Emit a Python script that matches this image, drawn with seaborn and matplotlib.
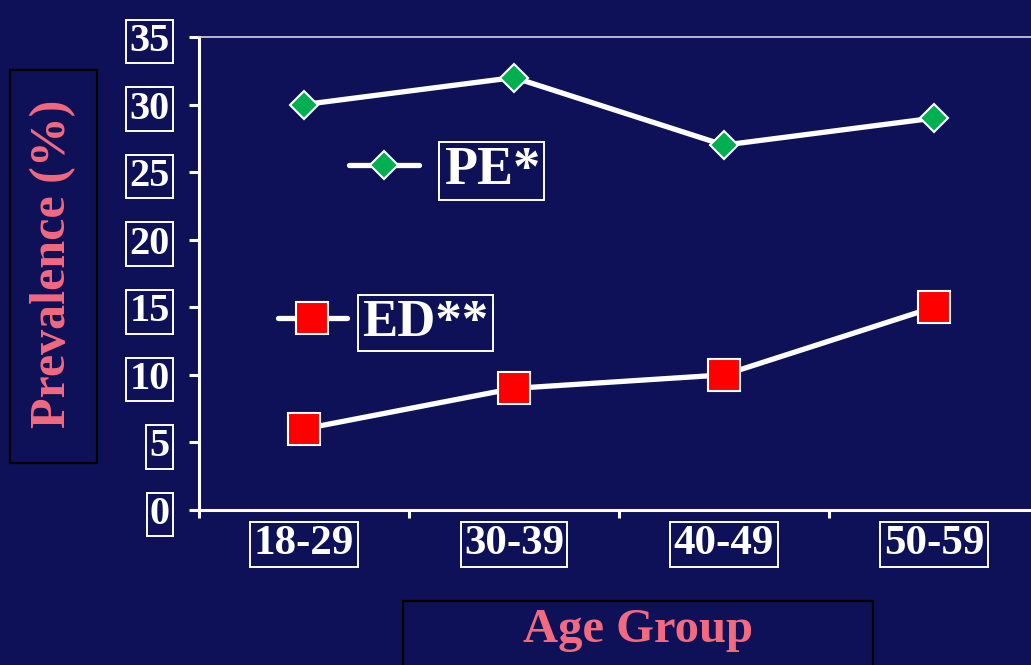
import matplotlib
matplotlib.use("Agg")
import matplotlib.pyplot as plt
from matplotlib.patches import Rectangle
import pandas as pd
import seaborn as sns

# Data
age_groups = ["18-29", "30-39", "40-49", "50-59"]
pe_values = [30, 32, 27, 29]
ed_values = [6, 9, 10, 15]
y_ticks = [0, 5, 10, 15, 20, 25, 30, 35]

NAVY = "#0E1158"
PINK = "#F26A7F"
GREEN = "#00B050"
RED = "#FF0000"
FONT = "Liberation Serif"

sns.set_theme(style="white")
plt.rcParams["font.family"] = [FONT, "DejaVu Sans"]
plt.rcParams["font.weight"] = "bold"

fig = plt.figure(figsize=(10.31, 6.65), dpi=100, facecolor=NAVY)
ax = fig.add_axes([199 / 1031, 155 / 665, 840 / 1031, 473 / 665])
ax.set_facecolor(NAVY)

pe_df = pd.DataFrame({"age": age_groups, "value": pe_values})
ed_df = pd.DataFrame({"age": age_groups, "value": ed_values})

sns.lineplot(data=pe_df, x="age", y="value", ax=ax, sort=False,
             color="white", linewidth=3.8, marker="D", markersize=14,
             markerfacecolor=GREEN, markeredgecolor="white",
             markeredgewidth=1.5, label="PE*", legend=False)
sns.lineplot(data=ed_df, x="age", y="value", ax=ax, sort=False,
             color="white", linewidth=3.8, marker="s", markersize=23,
             markerfacecolor=RED, markeredgecolor="white",
             markeredgewidth=1.5, label="ED**", legend=False)

ax.set_xlim(-0.5, len(age_groups) - 0.5)
ax.set_ylim(0, 35)
ax.set_xticks(range(len(age_groups)))
ax.set_xticklabels(age_groups)
ax.set_xticks([i - 0.5 for i in range(len(age_groups) + 1)], minor=True)
ax.set_yticks(y_ticks)
ax.set_yticklabels([str(v) for v in y_ticks])
ax.set_xlabel("")
ax.set_ylabel("")

ax.tick_params(axis="x", which="major", length=0, pad=11,
               labelsize=31, labelcolor="white")
ax.tick_params(axis="x", which="minor", length=6, width=2.2,
               direction="out", color="white", bottom=True)
ax.tick_params(axis="y", which="major", length=7, width=2.2,
               direction="out", color="white", pad=14,
               labelsize=29, labelcolor="white", left=True)

box = dict(boxstyle="square,pad=0.08", facecolor=NAVY,
           edgecolor="white", linewidth=1.4)
for t in ax.get_xticklabels() + ax.get_yticklabels():
    t.set_fontweight("bold")
    t.set_bbox(box)

for side in ("left", "bottom"):
    ax.spines[side].set_color("white")
    ax.spines[side].set_linewidth(2.2)
ax.spines["top"].set_color("#D4D4E4")
ax.spines["top"].set_linewidth(1.2)
ax.spines["right"].set_visible(False)
ax.grid(False)

# Series labels placed inside the plotting area
lines = ax.get_lines()
leg_box = dict(boxstyle="square,pad=0.08", facecolor=NAVY,
               edgecolor="white", linewidth=1.4)
leg_pe = ax.legend([lines[0]], ["PE*"], loc="center left",
                   bbox_to_anchor=(349 / 1031, 1 - 171 / 665),
                   bbox_transform=fig.transFigure, frameon=False,
                   borderpad=0, borderaxespad=0, handlelength=1.3,
                   handletextpad=0.45, prop=dict(family=FONT, weight="bold", size=39))
for t in leg_pe.get_texts():
    t.set_color("white")
    t.set_bbox(leg_box)
ax.add_artist(leg_pe)
leg_ed = ax.legend([lines[1]], ["ED**"], loc="center left",
                   bbox_to_anchor=(278 / 1031, 1 - 323 / 665),
                   bbox_transform=fig.transFigure, frameon=False,
                   borderpad=0, borderaxespad=0, handlelength=1.3,
                   handletextpad=0.3, prop=dict(family=FONT, weight="bold", size=38))
for t in leg_ed.get_texts():
    t.set_color("white")
    t.set_bbox(leg_box)

# Axis titles in their framed boxes
W, H = 1031, 665
fig.patches.append(Rectangle((10 / W, 1 - 463 / H), 87 / W, 393 / H,
                             transform=fig.transFigure, facecolor=NAVY,
                             edgecolor="black", linewidth=1.6, zorder=0))
fig.text(53 / W, 1 - 264 / H, "Prevalence (%)", rotation=90, color=PINK,
         fontsize=36, fontweight="bold", family=FONT, ha="center", va="center")
fig.patches.append(Rectangle((403 / W, 1 - 700 / H), 470 / W, 99 / H,
                             transform=fig.transFigure, facecolor=NAVY,
                             edgecolor="black", linewidth=1.6, zorder=0))
fig.text(638 / W, 1 - 630 / H, "Age Group", color=PINK,
         fontsize=35, fontweight="bold", family=FONT, ha="center", va="center")

fig.savefig("out.png", dpi=100, facecolor=NAVY)
